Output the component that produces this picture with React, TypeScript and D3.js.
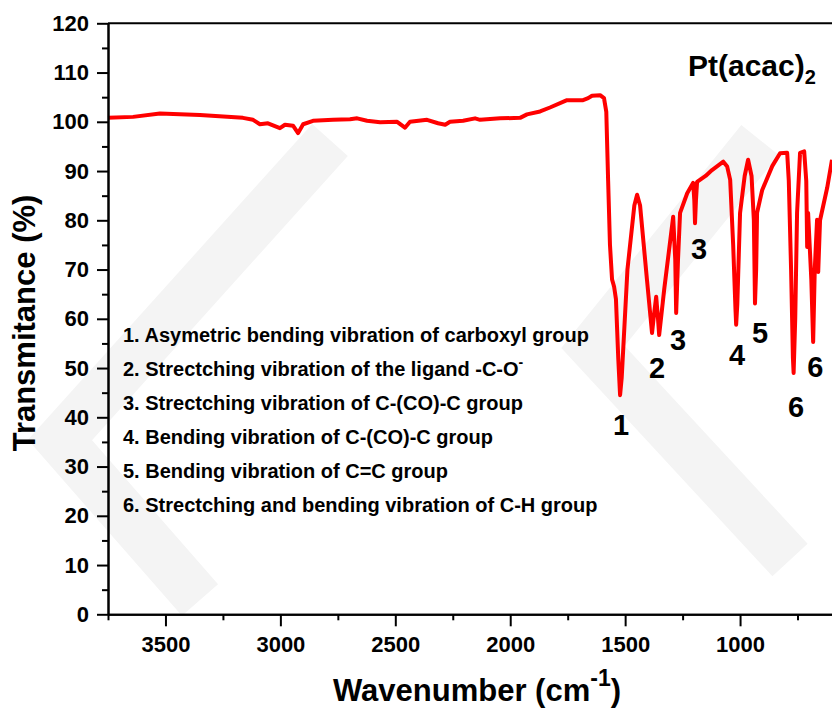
import React, { useEffect, useRef } from 'react';
import * as d3 from 'd3';

// FTIR spectrum of Pt(acac)2
const wavenumber = [
  3750, 3641, 3524, 3350, 3163, 3119, 3089, 3054, 3002, 2980, 2945, 2923, 2901, 2858,
  2771, 2697, 2666, 2623, 2566, 2492, 2458, 2436, 2362, 2314, 2283, 2262, 2205, 2153,
  2131, 2044, 1957, 1927, 1870, 1827, 1753, 1683, 1661, 1644, 1609, 1592, 1582, 1574,
  1566, 1557, 1548, 1540, 1530, 1522, 1515, 1490, 1460, 1448, 1435, 1405, 1383, 1374,
  1365, 1357, 1352, 1330, 1291, 1282, 1278, 1270, 1261, 1230, 1204, 1199, 1196, 1192,
  1187, 1150, 1122, 1073, 1056, 1043, 1030, 1020, 1017, 1012, 1000, 980, 965, 950,
  940, 935, 930, 926, 904, 860, 826, 795, 788, 778, 770, 767, 760, 752, 739, 721,
  712, 708, 704, 690, 682, 675, 665, 660, 652, 621, 600,
];
const transmittance = [
  100.8, 101.0, 101.7, 101.4, 100.8, 100.4, 99.5, 99.7, 98.7, 99.4, 99.2, 97.7, 99.5, 100.2,
  100.4, 100.5, 100.7, 100.2, 99.9, 100.0, 98.8, 100.0, 100.4, 99.7, 99.4, 100.0, 100.2, 100.7,
  100.4, 100.7, 100.8, 101.5, 102.1, 102.9, 104.4, 104.4, 104.8, 105.3, 105.4, 104.8, 102.0, 88.0,
  75.0, 68.0, 66.5, 64.0, 52.0, 44.5, 48.0, 70.0, 83.0, 85.2, 83.0, 67.9, 57.1, 61.0,
  64.5, 60.0, 56.7, 66.0, 80.7, 72.0, 61.2, 72.0, 81.5, 85.5, 87.6, 84.0, 79.4, 84.0,
  87.8, 89.0, 90.2, 91.9, 90.9, 88.2, 75.0, 62.0, 58.8, 63.0, 81.5, 89.0, 92.3, 89.0,
  80.0, 63.1, 70.0, 81.5, 86.1, 91.0, 93.6, 93.7, 88.0, 70.0, 52.0, 49.0, 60.0, 81.5, 93.7, 94.0,
  88.0, 74.6, 81.5, 68.0, 55.3, 70.0, 80.1, 69.5, 80.0, 86.6, 92.3,
];

const peakLabels = ['1', '2', '3', '3', '4', '5', '6', '6'];
const peakLabelWavenumber = [1518, 1361, 1270, 1178, 1013, 913, 756, 673];
const peakLabelT = [36.4, 48.0, 53.7, 72.1, 50.7, 55.1, 40.1, 48.2];

const assignments = [
  '1. Asymetric bending vibration of carboxyl group',
  '2. Strectching vibration of the ligand -C-O',
  '3. Strectching vibration of C-(CO)-C group',
  '4. Bending vibration of C-(CO)-C group',
  '5. Bending vibration of C=C group',
  '6. Strectching and bending vibration of C-H group',
];

const xMajorTicks = [3500, 3000, 2500, 2000, 1500, 1000];
const xMinorTicks = [3750, 3250, 2750, 2250, 1750, 1250, 750];
const yMajorTicks = [0, 10, 20, 30, 40, 50, 60, 70, 80, 90, 100, 110, 120];
const yMinorTicks = [5, 15, 25, 35, 45, 55, 65, 75, 85, 95, 105, 115];

const FONT = '"Liberation Sans", Arial, sans-serif';

const App = () => {
  const svgRef = useRef<SVGSVGElement>(null);

  useEffect(() => {
    const W = 832;
    const H = 717;
    const margin = { top: 23.3, left: 108, right: 0, bottom: 102.7 };
    const width = W - margin.left - margin.right;
    const height = H - margin.top - margin.bottom;

    const root = d3.select(svgRef.current);
    root.selectAll('*').remove();
    root.attr('width', W).attr('height', H);

    // faint background watermark
    const wm = root.append('g')
      .attr('fill', 'none')
      .attr('stroke', '#f4f4f4')
      .attr('stroke-width', 48)
      .attr('stroke-linejoin', 'miter');
    wm.append('polyline').attr('points', '330,140 60,440 200,600');
    wm.append('polyline').attr('points', '760,140 593,347 790,560');

    const svg = root.append('g')
      .attr('transform', `translate(${margin.left},${margin.top})`);

    const x = d3.scaleLinear().domain([3750, 600]).range([0, width]);
    const y = d3.scaleLinear().domain([0, 120]).range([height, 0]);

    // spectrum
    const points = wavenumber.map((w, i) => [w, transmittance[i]] as [number, number]);
    const line = d3.line<[number, number]>()
      .x(d => x(d[0]))
      .y(d => y(d[1]));
    svg.append('path')
      .datum(points)
      .attr('d', line)
      .attr('fill', 'none')
      .attr('stroke', '#ff0000')
      .attr('stroke-width', 4)
      .attr('stroke-linejoin', 'round');

    // axes
    const styleAxis = (g: any) => {
      g.select('.domain').attr('stroke-width', 2);
      g.selectAll('.tick line').attr('stroke-width', 2);
      g.selectAll('text')
        .attr('font-family', FONT)
        .attr('font-weight', 'bold')
        .attr('font-size', 22)
        .attr('fill', '#000');
    };

    svg.append('g')
      .attr('transform', `translate(0,${height})`)
      .call(d3.axisBottom(x).tickValues(xMinorTicks).tickSize(6).tickSizeOuter(0).tickFormat(() => ''))
      .call(styleAxis);
    svg.append('g')
      .attr('transform', `translate(0,${height})`)
      .call(d3.axisBottom(x).tickValues(xMajorTicks).tickSize(12).tickSizeOuter(0).tickPadding(10).tickFormat(d3.format('d')))
      .call(styleAxis);

    svg.append('g')
      .call(d3.axisLeft(y).tickValues(yMinorTicks).tickSize(6).tickSizeOuter(0).tickFormat(() => ''))
      .call(styleAxis);
    svg.append('g')
      .call(d3.axisLeft(y).tickValues(yMajorTicks).tickSize(11).tickSizeOuter(0).tickPadding(8).tickFormat(d3.format('d')))
      .call(styleAxis);

    // top frame
    svg.append('line')
      .attr('x1', 0).attr('x2', width)
      .attr('y1', 0).attr('y2', 0)
      .attr('stroke', '#000')
      .attr('stroke-width', 2);

    // axis titles
    const xt = root.append('text')
      .attr('x', 477)
      .attr('y', 701)
      .attr('text-anchor', 'middle')
      .attr('font-family', FONT)
      .attr('font-weight', 'bold')
      .attr('font-size', 31);
    xt.append('tspan').text('Wavenumber (cm');
    xt.append('tspan').attr('font-size', 23).attr('dy', -15).text('-1');
    xt.append('tspan').attr('dy', 15).text(')');

    root.append('text')
      .attr('transform', 'translate(35,323) rotate(-90)')
      .attr('text-anchor', 'middle')
      .attr('font-family', FONT)
      .attr('font-weight', 'bold')
      .attr('font-size', 31)
      .text('Transmitance (%)');

    // sample name
    const pt = root.append('text')
      .attr('x', 688)
      .attr('y', 76)
      .attr('font-family', FONT)
      .attr('font-weight', 'bold')
      .attr('font-size', 30);
    pt.append('tspan').text('Pt(acac)');
    pt.append('tspan').attr('font-size', 20).attr('dy', 8).text('2');

    // peak numbers
    svg.selectAll('text.peak')
      .data(peakLabels)
      .enter()
      .append('text')
      .attr('class', 'peak')
      .attr('x', (d, i) => x(peakLabelWavenumber[i]))
      .attr('y', (d, i) => y(peakLabelT[i]))
      .attr('text-anchor', 'middle')
      .attr('font-family', FONT)
      .attr('font-weight', 'bold')
      .attr('font-size', 29)
      .text(d => d);

    // band assignments
    const list = root.append('g')
      .attr('font-family', FONT)
      .attr('font-weight', 'bold')
      .attr('font-size', 20);
    assignments.forEach((a, i) => {
      const t = list.append('text')
        .attr('x', 123)
        .attr('y', 341.7 + i * 34);
      t.append('tspan').text(a);
      if (i === 1) t.append('tspan').attr('font-size', 14).attr('dy', -9).text('-');
    });
  }, []);

  return (
    <svg
      ref={svgRef}
      style={{ position: 'absolute', left: 0, top: 0, background: '#fff' }}
    />
  );
};

export default App;
